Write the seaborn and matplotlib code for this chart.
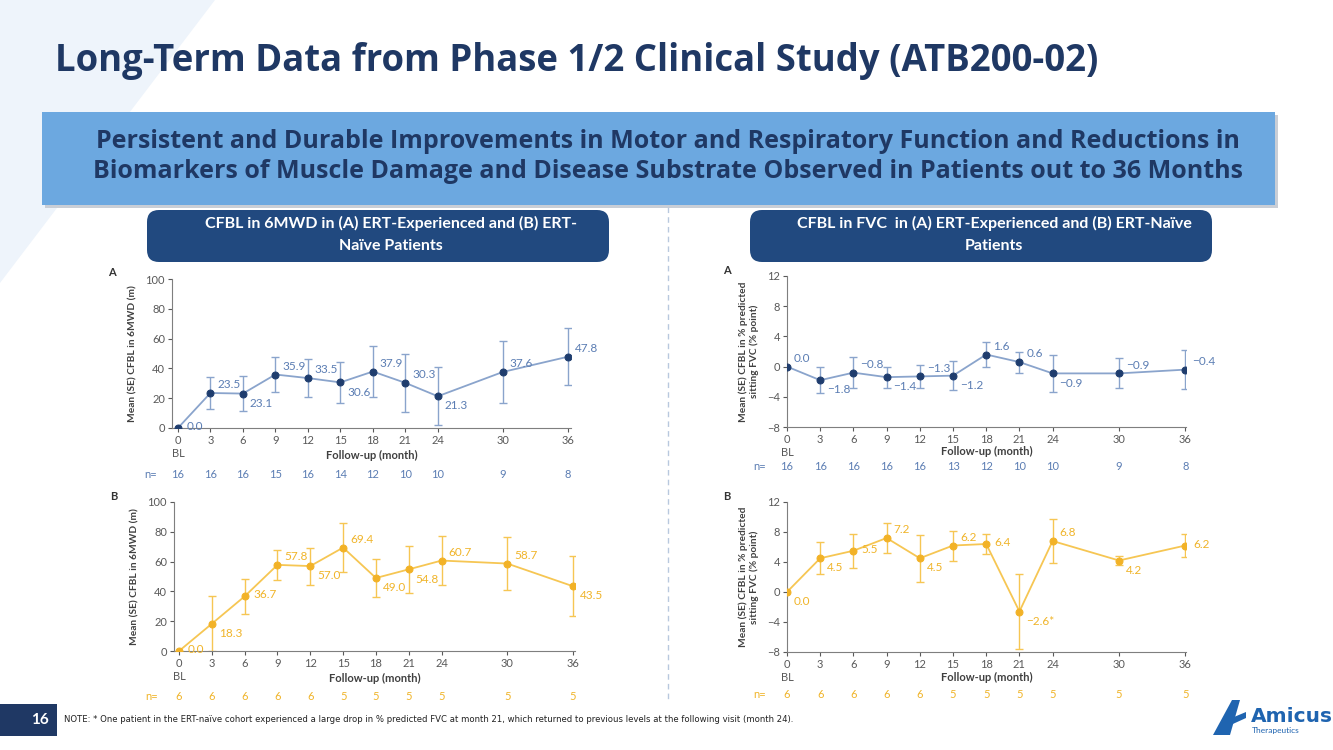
import numpy as np
import pandas as pd
import matplotlib
matplotlib.use("Agg")
import matplotlib.pyplot as plt
import seaborn as sns
from matplotlib.patches import Polygon, Rectangle, FancyBboxPatch

# data
months = [0, 3, 6, 9, 12, 15, 18, 21, 24, 30, 36]

mwd_exp = [0.0, 23.5, 23.1, 35.9, 33.5, 30.6, 37.9, 30.3, 21.3, 37.6, 47.8]
mwd_exp_se = [0, 10.5, 11.5, 12.0, 12.7, 13.5, 17.0, 19.5, 19.5, 20.7, 19.0]
mwd_exp_n = [16, 16, 16, 15, 16, 14, 12, 10, 10, 9, 8]

mwd_naive = [0.0, 18.3, 36.7, 57.8, 57.0, 69.4, 49.0, 54.8, 60.7, 58.7, 43.5]
mwd_naive_se = [0, 18.3, 11.7, 10.3, 12.4, 16.7, 12.5, 15.6, 16.2, 18.0, 20.2]
mwd_naive_n = [6, 6, 6, 6, 6, 5, 5, 5, 5, 5, 5]

fvc_exp = [0.0, -1.8, -0.8, -1.4, -1.3, -1.2, 1.6, 0.6, -0.9, -0.9, -0.4]
fvc_exp_se = [0, 1.7, 2.1, 1.4, 1.5, 1.9, 1.7, 1.4, 2.4, 2.0, 2.6]
fvc_exp_n = [16, 16, 16, 16, 16, 13, 12, 10, 10, 9, 8]

fvc_naive = [0.0, 4.5, 5.5, 7.2, 4.5, 6.2, 6.4, -2.6, 6.8, 4.2, 6.2]
fvc_naive_se = [0, 2.15, 2.3, 2.0, 3.1, 2.0, 1.35, 5.0, 2.9, 0.6, 1.5]
fvc_naive_n = [6, 6, 6, 6, 6, 5, 5, 5, 5, 5, 5]
fvc_naive_marks = ["", "", "", "", "", "", "", "*", "", "", ""]

# where each value label sits (u = above right, d = below right, r = right)
side_mwd_exp = ["r", "u", "d", "u", "u", "d", "u", "u", "d", "u", "u"]
side_mwd_naive = ["r", "d", "r", "u", "d", "u", "d", "d", "u", "u", "d"]
side_fvc_exp = ["u", "d", "u", "d", "u", "d", "u", "u", "d", "u", "u"]
side_fvc_naive = ["d", "d", "r", "u", "d", "u", "r", "d", "u", "d", "r"]

W, H = 1333, 750
NAVY = "#1f3864"
BLUE_LINE = "#8aa4cc"
BLUE_DOT = "#1f3d6e"
BLUE_TXT = "#5b7db3"
GOLD_LINE = "#f6c653"
GOLD_DOT = "#f2b227"
GOLD_TXT = "#f0b429"
GREY = "#595959"

sns.set_style("white")
plt.rcParams["font.family"] = ["Lato", "DejaVu Sans"]

fig = plt.figure(figsize=(W / 100, H / 100), dpi=100)

# slide background layer in pixel units
bg = fig.add_axes([0, 0, 1, 1])
bg.set_xlim(0, W)
bg.set_ylim(H, 0)
bg.axis("off")

bg.add_patch(Polygon([(0, 0), (215, 0), (0, 283)], closed=True, color="#eef4fb", lw=0))
bg.text(55, 61, "Long-Term Data from Phase 1/2 Clinical Study (ATB200-02)",
        fontsize=26.3, fontweight="bold", color=NAVY, va="center", ha="left",
        family=["Open Sans", "DejaVu Sans"])

bg.add_patch(Rectangle((45, 115), 1233, 93, color="#c9ced6", lw=0))
bg.add_patch(Rectangle((42, 112), 1233, 93, color="#6ca8e0", lw=0))
for yy, line in [(141, "Persistent and Durable Improvements in Motor and Respiratory Function and Reductions in"),
                 (171, "Biomarkers of Muscle Damage and Disease Substrate Observed in Patients out to 36 Months")]:
    bg.text(668, yy, line, fontsize=18, fontweight="bold", color=NAVY, ha="center", va="center",
            family=["Open Sans", "DejaVu Sans"])

bg.plot([668, 668], [207, 700], ls=(0, (4, 3)), color="#b8c8de", lw=1)

for x0, cx, l1, l2 in [(147, 391, "CFBL in 6MWD in (A) ERT-Experienced and (B) ERT-", "Naïve Patients"),
                       (750, 994, "CFBL in FVC  in (A) ERT-Experienced and (B) ERT-Naïve", "Patients")]:
    bg.add_patch(FancyBboxPatch((x0, 210), 462, 52, boxstyle="round,pad=0,rounding_size=12",
                                color="#21497f", lw=0))
    bg.text(cx, 223, l1, fontsize=11.5, fontweight="bold", color="white", ha="center", va="center")
    bg.text(cx, 246, l2, fontsize=11.5, fontweight="bold", color="white", ha="center", va="center")

bg.add_patch(Rectangle((0, 704), 57, 32, color=NAVY, lw=0))
bg.text(40, 720, "16", fontsize=11, fontweight="bold", color="white", ha="center", va="center")
bg.text(64, 720, "NOTE: * One patient in the ERT-naïve cohort experienced a large drop in % predicted FVC at month 21, "
        "which returned to previous levels at the following visit (month 24).",
        fontsize=6.15, color="#222222", ha="left", va="center",
        family=["Liberation Sans Narrow", "DejaVu Sans"])

# logo
bg.add_patch(Polygon([(1213, 735), (1232, 700), (1240, 700), (1230, 735)], closed=True, color="#1f64b0", lw=0))
bg.add_patch(Polygon([(1222, 722), (1246, 712), (1246, 718), (1224, 728)], closed=True, color="#1f64b0", lw=0))
bg.text(1251, 716, "Amicus", fontsize=14.5, fontweight="bold", color="#1f64b0", ha="left", va="center",
        family=["Liberation Sans Narrow", "DejaVu Sans"])
bg.text(1252, 731, "Therapeutics", fontsize=6, color="#1f64b0", ha="left", va="center")


def panel(box, xlim, ylim, yticks, vals, se, ns, sides, ylabel, letter,
          line_c, dot_c, txt_c, xlab_y, nrow_y, marks=None):
    l, t, r, b = box
    ax = fig.add_axes([l / W, 1 - b / H, (r - l) / W, (b - t) / H])
    ax.patch.set_alpha(0)
    df = pd.DataFrame({"month": months, "value": vals})
    sns.lineplot(data=df, x="month", y="value", ax=ax, color=line_c, lw=1.3,
                 marker="o", markersize=5, markerfacecolor=dot_c, markeredgecolor=dot_c, zorder=3)
    ax.errorbar(months[1:], vals[1:], yerr=se[1:], fmt="none", ecolor=line_c,
                elinewidth=1, capsize=3, capthick=1, zorder=2)
    off = {"u": (5, 6), "d": (5, -7), "r": (6, 1)}
    for i, (m, v) in enumerate(zip(months, vals)):
        s = f"{v:.1f}".replace("-", "\u2212")
        if marks:
            s += marks[i]
        ax.annotate(s, (m, v), xytext=off[sides[i]], textcoords="offset points",
                    fontsize=8.5, color=txt_c, ha="left", va="center")
    ax.set_xlim(*xlim)
    ax.set_ylim(*ylim)
    ax.set_xticks(months)
    ax.set_xticklabels(["0\nBL"] + [str(m) for m in months[1:]])
    ax.set_yticks(yticks)
    ax.set_yticklabels([str(y).replace("-", "\u2212") for y in yticks])
    ax.tick_params(axis="both", labelsize=8, colors=GREY, length=3, width=0.8, direction="out",
                   bottom=True, left=True, pad=2)
    sns.despine(ax=ax)
    for sp in ["left", "bottom"]:
        ax.spines[sp].set_color("#7f7f7f")
        ax.spines[sp].set_linewidth(0.8)
    ax.set_xlabel("Follow-up (month)", fontsize=8, fontweight="bold", color="#404040")
    ax.xaxis.set_label_coords(0.5, -(xlab_y - b) / (b - t))
    ax.xaxis.label.set_verticalalignment("center")
    ax.set_ylabel(ylabel, fontsize=7.3, fontweight="bold", color="#404040", labelpad=6)
    tr = ax.get_xaxis_transform()
    ny = -(nrow_y - b) / (b - t)
    ax.text(-2.5, ny, "n=", transform=tr, fontsize=8, color=txt_c, ha="center", va="center")
    for m, n in zip(months, ns):
        ax.text(m, ny, str(n), transform=tr, fontsize=8, color=txt_c, ha="center", va="center")
    bg.text(l - 64, t - 6, letter, fontsize=8, fontweight="bold", color="#333333", ha="left", va="center")
    return ax


mwd_label = "Mean (SE) CFBL in 6MWD (m)"
fvc_label = "Mean (SE) CFBL in % predicted\nsitting FVC (% point)"

panel((172, 279, 571, 428), (-0.55, 36.3), (0, 100), [0, 20, 40, 60, 80, 100],
      mwd_exp, mwd_exp_se, mwd_exp_n, side_mwd_exp, mwd_label, "A",
      BLUE_LINE, BLUE_DOT, BLUE_TXT, 455, 474)
panel((174, 502, 575, 651), (-0.46, 36.2), (0, 100), [0, 20, 40, 60, 80, 100],
      mwd_naive, mwd_naive_se, mwd_naive_n, side_mwd_naive, mwd_label, "B",
      GOLD_LINE, GOLD_DOT, GOLD_TXT, 678, 696)
panel((787, 276, 1186, 427), (0, 36.05), (-8, 12), [-8, -4, 0, 4, 8, 12],
      fvc_exp, fvc_exp_se, fvc_exp_n, side_fvc_exp, fvc_label, "A",
      BLUE_LINE, BLUE_DOT, BLUE_TXT, 451, 467)
panel((787, 502, 1186, 652), (0, 36.05), (-8, 12), [-8, -4, 0, 4, 8, 12],
      fvc_naive, fvc_naive_se, fvc_naive_n, side_fvc_naive, fvc_label, "B",
      GOLD_LINE, GOLD_DOT, GOLD_TXT, 677, 694, marks=fvc_naive_marks)

fig.savefig("out.png", dpi=100)
